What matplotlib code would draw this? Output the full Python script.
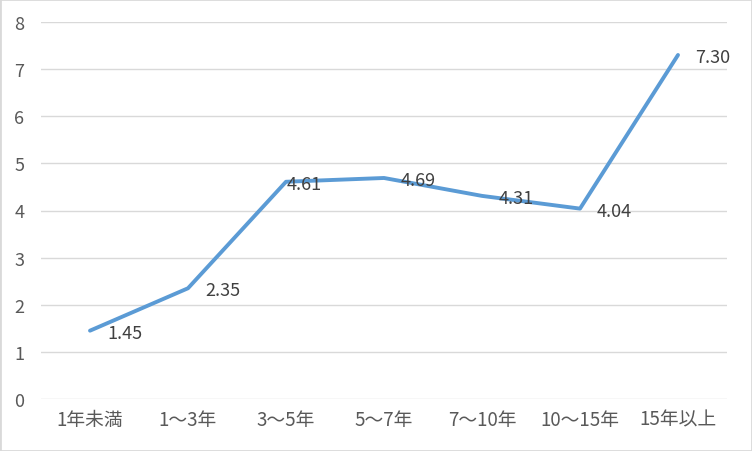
import matplotlib.pyplot as plt
from matplotlib.patches import Rectangle

plt.rcParams['font.family'] = ['Noto Sans CJK JP', 'DejaVu Sans']

categories = ['1年未満', '1～3年', '3～5年', '5～7年', '7～10年', '10～15年', '15年以上']
values = [1.45, 2.35, 4.61, 4.69, 4.31, 4.04, 7.30]
y_ticks = [0, 1, 2, 3, 4, 5, 6, 7, 8]

fig = plt.figure(figsize=(7.52, 4.52), dpi=100)
ax = fig.add_axes([41 / 752, 1 - 400 / 452, 686 / 752, 377 / 452])

x = list(range(len(categories)))
ax.plot(x, values, color='#5B9BD5', linewidth=2.8, solid_capstyle='round')

# label offsets in pixels (the 4.61 label sits almost on the point)
dx = [17, 17, 1, 17, 17, 17, 17]
for i, v in enumerate(values):
    ax.annotate('%.2f' % v, (i, v), xytext=(dx[i] * 0.72, -1.5), textcoords='offset points',
                ha='left', va='center', fontsize=13, color='#404040')

ax.set_xlim(-0.5, len(categories) - 0.5)
ax.set_ylim(0, 8)
ax.set_yticks(y_ticks)
ax.set_xticks(x)
ax.set_xticklabels(categories, fontsize=13.5)
ax.grid(axis='y', color='#D9D9D9', linewidth=1)
ax.set_axisbelow(True)
for s in ax.spines.values():
    s.set_visible(False)
ax.tick_params(axis='both', length=0, colors='#595959')
ax.tick_params(axis='y', pad=12, labelsize=13)
ax.tick_params(axis='x', pad=7)

fig.patches.append(Rectangle((0, 0), 1, 1, transform=fig.transFigure, fill=False,
                             edgecolor='#D9D9D9', linewidth=2))

fig.savefig('out.png', dpi=100)
